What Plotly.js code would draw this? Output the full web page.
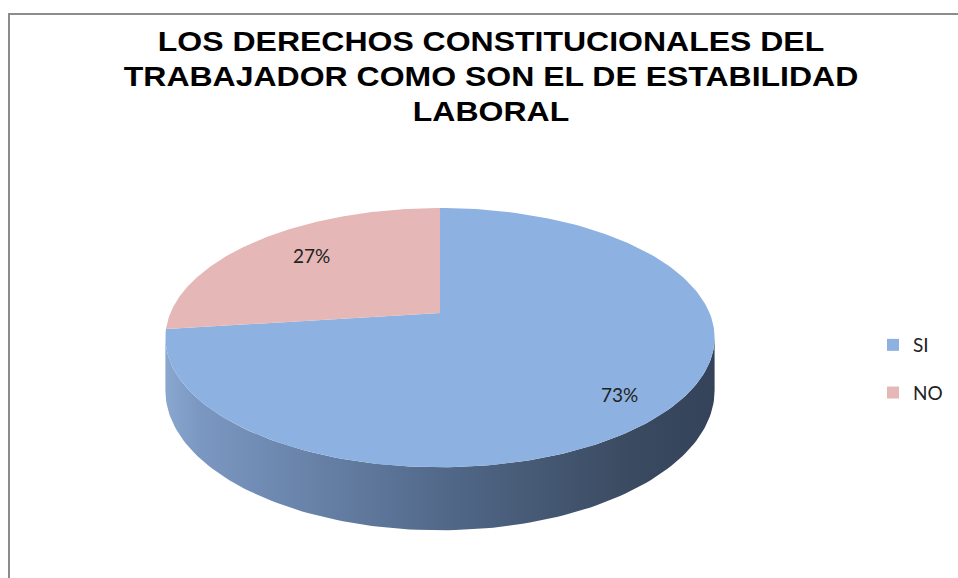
<!DOCTYPE html>
<html>
<head>
<meta charset="utf-8">
<script src="https://cdn.plot.ly/plotly-3.0.1.min.js"></script>
<style>html,body{margin:0;padding:0;background:#fff;}#chart{width:958px;height:578px;}</style>
</head>
<body>
<div id="chart"></div>
<script>
// ---- data ----
const labels = ['SI', 'NO'];
const values = [73, 27];
const titleLines = ['LOS DERECHOS CONSTITUCIONALES DEL', 'TRABAJADOR COMO SON EL DE ESTABILIDAD', 'LABORAL'];

// ---- styling / geometry ----
const topColors = ['#8DB2E1', '#E5B8B7'];
const sideScale = [[0, '#8aa7d0'], [0.06, '#7b98c2'], [0.5, '#52698a'], [0.85, '#3a4a60'], [1, '#34435a']];
const cx = 440, cy = 313;       // projected pie centre (pixels)
const A = 269.6, B = 125;      // radii
const k = 0.19;                // perspective strength
const H = 51;                  // depth
const labelFrac = [0.80, 0.69];
const labelShift = [-8, 5];
const titleX = 491, titleStretch = 1.185;

function proj(tDeg, f, depth) {
  const t = tDeg * Math.PI / 180;
  const u = Math.sin(t) * f, v = -Math.cos(t) * f;
  const w = 1 - k * v;
  return [cx + A * u / w, cy + (B * v + depth) / w];
}
function arc(t0, t1, depth, n) {
  const xs = [], ys = [];
  for (let i = 0; i <= n; i++) {
    const t = t0 + (t1 - t0) * i / n;
    const p = proj(t, 1, depth);
    xs.push(p[0]); ys.push(p[1]);
  }
  return [xs, ys];
}

const total = values.reduce((a, b) => a + b, 0);
const starts = [], ends = [];
let acc = 0;
values.forEach(v => { starts.push(acc / total * 360); acc += v; ends.push(acc / total * 360); });

const traces = [];
const silR = 90 + Math.asin(k) * 180 / Math.PI;
const silL = 270 - Math.asin(k) * 180 / Math.PI;

// side walls (front, visible part)
values.forEach((v, i) => {
  const a0 = Math.max(starts[i], silR), a1 = Math.min(ends[i], silL);
  if (a1 <= a0) return;
  const top = arc(a0, a1, 0, 120);
  const bot = arc(a1, a0, H, 120);
  traces.push({
    type: 'scatter', mode: 'lines', x: top[0].concat(bot[0]), y: top[1].concat(bot[1]),
    fill: 'toself', line: {width: 0, color: 'rgba(0,0,0,0)'},
    fillgradient: {type: 'horizontal', colorscale: i === 0 ? sideScale : [[0, '#b89190'], [1, '#8a6a6a']]},
    hoverinfo: 'skip', showlegend: false
  });
});
// top faces
values.forEach((v, i) => {
  const a = arc(starts[i], ends[i], 0, 200);
  traces.push({
    type: 'scatter', mode: 'lines', x: [cx].concat(a[0], [cx]), y: [cy].concat(a[1], [cy]),
    fill: 'toself', fillcolor: topColors[i], line: {width: 0, color: topColors[i]},
    hoverinfo: 'skip', showlegend: false
  });
});
// legend entries
labels.forEach((l, i) => {
  traces.push({
    type: 'scatter', mode: 'markers', x: [null], y: [null], name: l, legendgroup: 'g' + i,
    marker: {symbol: 'square', size: 12, color: topColors[i]}
  });
});

const annotations = values.map((v, i) => {
  const p = proj((starts[i] + ends[i]) / 2, labelFrac[i], 0);
  return {x: p[0], y: p[1], xref: 'x', yref: 'y', yshift: labelShift[i], text: Math.round(v / total * 100) + '%', showarrow: false,
    font: {family: 'Lato, "Open Sans", sans-serif', size: 19, color: '#222'}, xanchor: 'center', yanchor: 'middle'};
});
annotations.push({
  x: titleX, y: 25, xref: 'x', yref: 'y', text: titleLines.join('<br>'), showarrow: false,
  xanchor: 'center', yanchor: 'top', align: 'center',
  font: {family: '"Liberation Sans", Arial, sans-serif', size: 27, color: '#000', weight: 'bold'}
});

const layout = {
  width: 958, height: 578,
  margin: {l: 0, r: 0, t: 0, b: 0, pad: 0},
  paper_bgcolor: '#fff', plot_bgcolor: '#fff',
  xaxis: {range: [0, 958], visible: false, fixedrange: true},
  yaxis: {range: [578, 0], visible: false, fixedrange: true},
  showlegend: true,
  legend: {x: 873 / 958, xanchor: 'left', y: 1 - 326 / 578, yanchor: 'top', tracegroupgap: 20,
    traceorder: 'grouped', bgcolor: 'rgba(0,0,0,0)',
    font: {family: 'Lato, "Open Sans", sans-serif', size: 19, color: '#222'}},
  shapes: [{type: 'rect', xref: 'x', yref: 'y', x0: 9, y0: 14, x1: 1000, y1: 700,
    line: {color: '#8c8c8c', width: 2}, fillcolor: 'rgba(0,0,0,0)', layer: 'below'}],
  annotations: annotations
};

Plotly.newPlot('chart', traces, layout, {displayModeBar: false, staticPlot: true}).then(gd => {
  // the reference title is a horizontally stretched Arial Bold
  const anns = gd.querySelectorAll('g.annotation');
  const t = anns[anns.length - 1];
  if (t) t.setAttribute('transform', `translate(${titleX},0) scale(${titleStretch},1) translate(${-titleX},0)`);
});
</script>
</body>
</html>
